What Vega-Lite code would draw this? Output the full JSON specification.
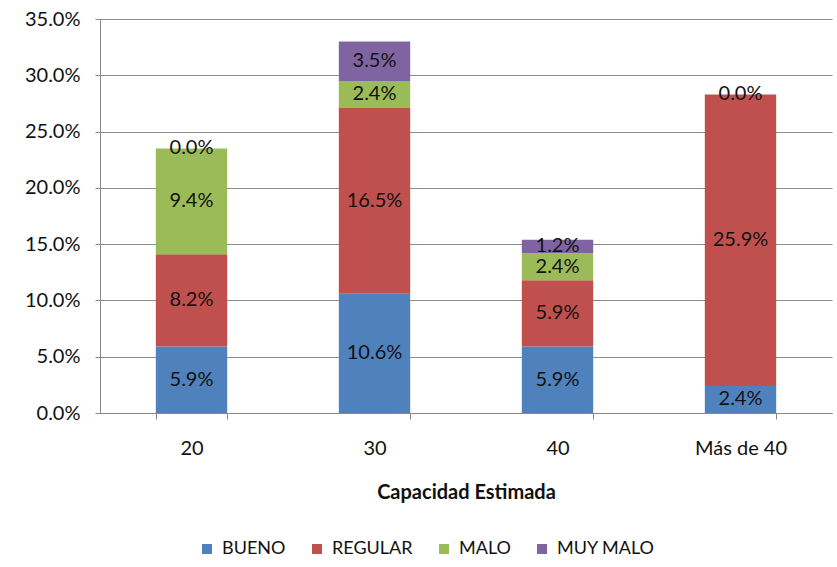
{
  "$schema": "https://vega.github.io/schema/vega-lite/v6.json",
  "width": 732,
  "height": 394,
  "autosize": {"type": "none"},
  "padding": {"left": 100, "top": 19, "right": 5, "bottom": 154},
  "background": "white",
  "config": {"font": "Lato", "view": {"stroke": null}},
  "data": {
    "values": [
      {"cap": "20", "serie": "BUENO", "ord": 1, "value": 5.9},
      {"cap": "20", "serie": "REGULAR", "ord": 2, "value": 8.2},
      {"cap": "20", "serie": "MALO", "ord": 3, "value": 9.4},
      {"cap": "20", "serie": "MUY MALO", "ord": 4, "value": 0.0},
      {"cap": "30", "serie": "BUENO", "ord": 1, "value": 10.6},
      {"cap": "30", "serie": "REGULAR", "ord": 2, "value": 16.5},
      {"cap": "30", "serie": "MALO", "ord": 3, "value": 2.4},
      {"cap": "30", "serie": "MUY MALO", "ord": 4, "value": 3.5},
      {"cap": "40", "serie": "BUENO", "ord": 1, "value": 5.9},
      {"cap": "40", "serie": "REGULAR", "ord": 2, "value": 5.9},
      {"cap": "40", "serie": "MALO", "ord": 3, "value": 2.4},
      {"cap": "40", "serie": "MUY MALO", "ord": 4, "value": 1.2},
      {"cap": "Más de 40", "serie": "BUENO", "ord": 1, "value": 2.4},
      {"cap": "Más de 40", "serie": "REGULAR", "ord": 2, "value": 25.9},
      {"cap": "Más de 40", "serie": "MUY MALO", "ord": 4, "value": 0.0}
    ]
  },
  "transform": [
    {"stack": "value", "groupby": ["cap"], "sort": [{"field": "ord", "order": "ascending"}], "as": ["y0", "y1"]},
    {"calculate": "(datum.y0 + datum.y1) / 2", "as": "ymid"},
    {"calculate": "format(datum.value, '.1f') + '%'", "as": "lbl"}
  ],
  "encoding": {
    "x": {
      "field": "cap",
      "type": "nominal",
      "sort": ["20", "30", "40", "Más de 40"],
      "scale": {"paddingInner": 0.61, "paddingOuter": 0.305},
      "axis": {
        "title": "Capacidad Estimada",
        "titleFont": "Lato",
        "titleFontSize": 20,
        "titleFontWeight": "bold",
        "titleColor": "#111",
        "titlePadding": 24,
        "labelAngle": 0,
        "labelFontSize": 20,
        "labelColor": "#111",
        "labelPadding": 19,
        "tickBand": "extent",
        "tickSize": 6,
        "tickColor": "#888",
        "domainColor": "#888",
        "grid": false
      }
    }
  },
  "layer": [
    {
      "mark": {"type": "bar"},
      "encoding": {
        "y": {
          "field": "y0",
          "type": "quantitative",
          "scale": {"domain": [0, 35]},
          "axis": {
            "title": null,
            "values": [0, 5, 10, 15, 20, 25, 30, 35],
            "labelExpr": "format(datum.value, '.1f') + '%'",
            "labelFontSize": 20,
            "labelColor": "#111",
            "labelPadding": 15,
            "tickSize": 5,
            "tickColor": "#888",
            "domainColor": "#888",
            "gridColor": "#8c8c8c",
            "gridWidth": 1
          }
        },
        "y2": {"field": "y1"},
        "color": {
          "field": "serie",
          "type": "nominal",
          "sort": ["BUENO", "REGULAR", "MALO", "MUY MALO"],
          "scale": {
            "domain": ["BUENO", "REGULAR", "MALO", "MUY MALO"],
            "range": ["#4F81BD", "#C0504D", "#9BBB59", "#8064A2"]
          },
          "legend": {
            "title": null,
            "orient": "none",
            "direction": "horizontal",
            "columns": 4,
            "legendX": 98,
            "legendY": 521,
            "symbolType": "square",
            "symbolSize": 100,
            "symbolStrokeWidth": 0,
            "labelFontSize": 18,
            "labelColor": "#111",
            "labelOffset": 6,
            "columnPadding": 22,
            "padding": 0
          }
        }
      }
    },
    {
      "mark": {"type": "text", "fontSize": 20, "color": "#111", "baseline": "middle"},
      "encoding": {
        "y": {"field": "ymid", "type": "quantitative"},
        "text": {"field": "lbl"}
      }
    }
  ]
}
